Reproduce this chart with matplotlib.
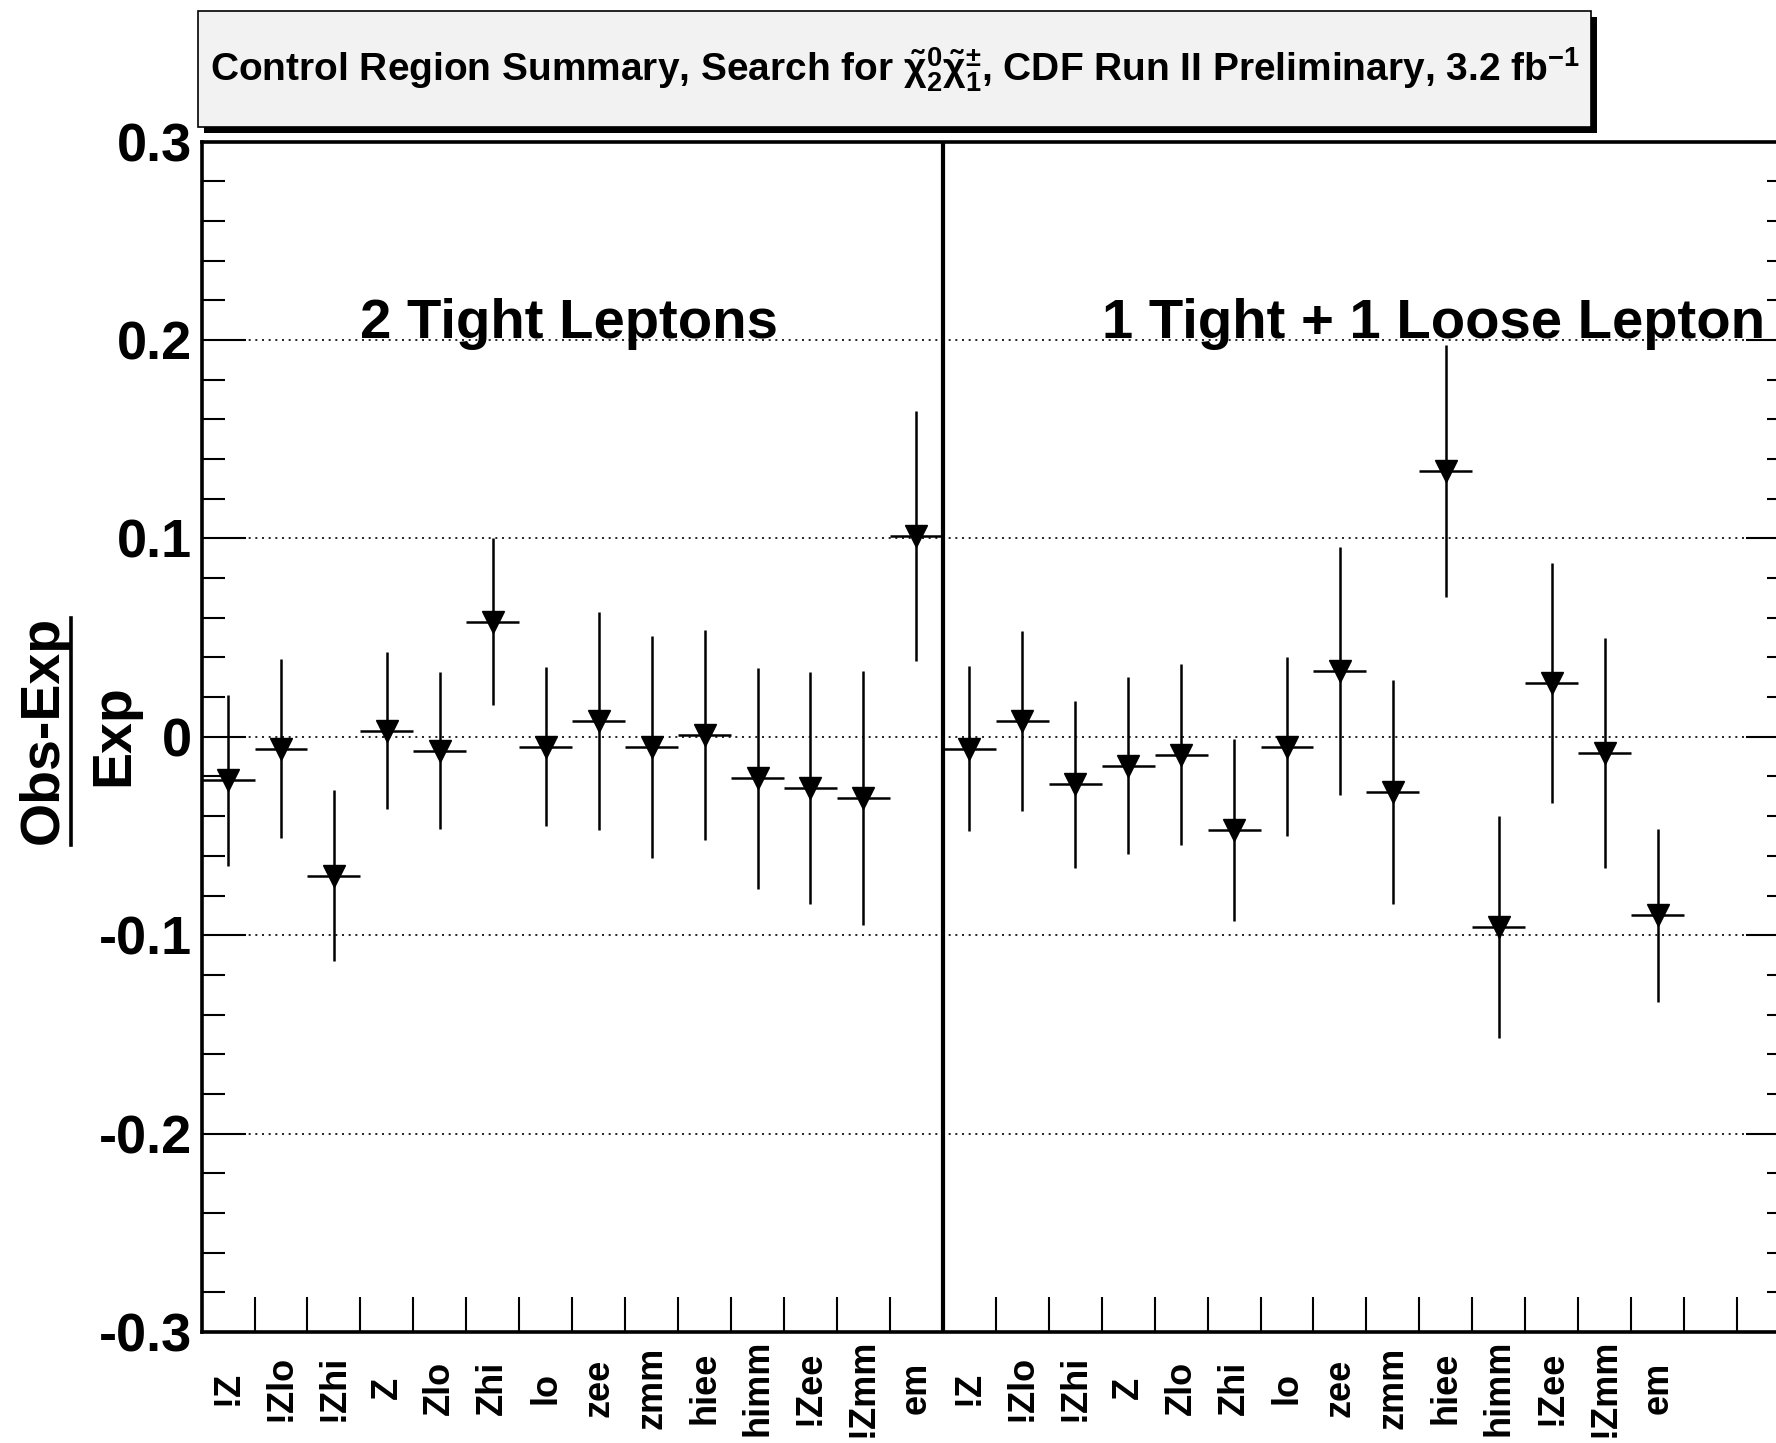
import numpy as np
import matplotlib
matplotlib.use("Agg")
import matplotlib.pyplot as plt
from matplotlib.patches import Rectangle
from matplotlib.lines import Line2D

plt.rcParams['font.family'] = ['Liberation Sans', 'DejaVu Sans']
plt.rcParams['font.weight'] = 'bold'
plt.rcParams['mathtext.fontset'] = 'custom'
plt.rcParams['mathtext.rm'] = 'Liberation Sans:bold'
plt.rcParams['mathtext.it'] = 'Liberation Sans:bold'
plt.rcParams['mathtext.bf'] = 'Liberation Sans:bold'

# ---- data ----
categories = ["!Z", "!Zlo", "!Zhi", "Z", "Zlo", "Zhi", "lo", "zee", "zmm",
              "hiee", "himm", "!Zee", "!Zmm", "em"]
tight2_vals = [-0.022, -0.006, -0.070, 0.003, -0.007, 0.058, -0.005, 0.008,
               -0.005, 0.001, -0.021, -0.026, -0.031, 0.101]
tight2_errs = [0.043, 0.045, 0.043, 0.0395, 0.0395, 0.042, 0.040, 0.055,
               0.056, 0.053, 0.0555, 0.0585, 0.064, 0.063]
loose_vals = [-0.006, 0.008, -0.024, -0.0146, -0.009, -0.047, -0.005, 0.033,
              -0.028, 0.134, -0.096, 0.027, -0.008, -0.090]
loose_errs = [0.0415, 0.0455, 0.042, 0.0445, 0.0455, 0.046, 0.045, 0.0625,
              0.0565, 0.0635, 0.056, 0.0605, 0.058, 0.0435]
n_bins = 30
group_labels = ["2 Tight Leptons", "1 Tight + 1 Loose Lepton"]
yticks = [-0.3, -0.2, -0.1, 0, 0.1, 0.2, 0.3]
ytick_labels = ["-0.3", "-0.2", "-0.1", "0", "0.1", "0.2", "0.3"]

W, H = 1776, 1443
fig = plt.figure(figsize=(W / 100, H / 100), dpi=100)
fig.patch.set_facecolor('white')

left, right, top, bottom = 201.6, 1790, 141.6, 1332
ax = fig.add_axes([left / W, 1 - bottom / H, (right - left) / W, (bottom - top) / H])

n = len(categories)
x = np.arange(2 * n) + 0.5
vals = np.array(tight2_vals + loose_vals)
errs = np.array(tight2_errs + loose_errs)

ax.errorbar(x, vals, yerr=errs, xerr=0.5, fmt='v', ms=16, color='k',
            mfc='k', mec='k', elinewidth=1.8, capsize=0, zorder=3)

ax.set_xlim(0, n_bins)
ax.set_ylim(-0.3, 0.3)

# grid at major y ticks
for yv in yticks[1:-1]:
    ax.axhline(yv, color='k', lw=1.2, ls=(0, (1.2, 2.8)), zorder=1)

# separator
ax.axvline(n, color='k', lw=3.0, zorder=2)

# ticks
ax.set_yticks(yticks)
ax.set_yticklabels(ytick_labels, fontsize=39, fontweight='bold')
ax.set_yticks(np.arange(-0.3, 0.301, 0.02), minor=True)
ax.tick_params(axis='y', which='major', direction='in', length=32, width=1.5,
               left=True, right=True, pad=7)
ax.tick_params(axis='y', which='minor', direction='in', length=16.5, width=1.5,
               left=True, right=True)

ax.set_xticks(np.arange(0, n_bins + 1))
ax.set_xticklabels([])
ax.set_xticks(x, minor=True)
ax.set_xticklabels(categories + categories, minor=True, rotation=90,
                   fontsize=26, fontweight='bold', va='center')
ax.tick_params(axis='x', which='major', direction='in', length=25, width=1.5,
               bottom=True, top=False)
ax.tick_params(axis='x', which='minor', length=0, pad=40)

for s in ax.spines.values():
    s.set_linewidth(2.6)

# group labels
ax.text(3.0, 0.201, group_labels[0], fontsize=40.5, fontweight='bold',
        ha='left', va='baseline')
ax.text(17.0, 0.201, group_labels[1], fontsize=40.5, fontweight='bold',
        ha='left', va='baseline')

# y-axis label as fraction
fig.text(44 / W, 1 - 730 / H, "Obs-Exp", rotation=90, fontsize=40,
         fontweight='bold', ha='center', va='center')
fig.text(114 / W, 1 - 735 / H, "Exp", rotation=90, fontsize=40,
         fontweight='bold', ha='center', va='center')
fig.add_artist(Line2D([71 / W, 71 / W], [1 - 618 / H, 1 - 845 / H],
                      color='k', lw=2.6, transform=fig.transFigure))

# title box with shadow
bx0, bx1, by0, by1 = 198, 1591, 11, 127
sh = 6
fig.add_artist(Rectangle(((bx0 + sh) / W, 1 - (by1 + sh) / H), (bx1 - bx0) / W,
                         (by1 - by0) / H, transform=fig.transFigure,
                         facecolor='k', edgecolor='k', lw=0, zorder=5))
fig.add_artist(Rectangle((bx0 / W, 1 - by1 / H), (bx1 - bx0) / W,
                         (by1 - by0) / H, transform=fig.transFigure,
                         facecolor='#f2f2f2', edgecolor='k', lw=1.2, zorder=6))
fig.text((bx0 + bx1) / 2 / W, 1 - 70 / H,
         r"Control Region Summary, Search for $\tilde{\chi}^{0}_{2}\tilde{\chi}^{\pm}_{1}$, CDF Run II Preliminary, 3.2 fb$^{-1}$",
         fontsize=28, fontweight='bold', ha='center', va='center', zorder=7)

fig.savefig("out.png", dpi=100)
